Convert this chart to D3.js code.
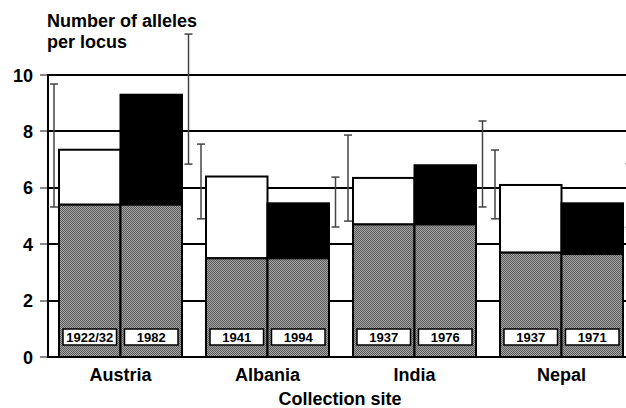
<!DOCTYPE html>
<html>
<head>
<meta charset="utf-8">
<script src="https://cdn.jsdelivr.net/npm/d3@7"></script>
<style>
  html, body { margin: 0; padding: 0; background: #fff; }
  svg { display: block; font-family: "Liberation Sans", Arial, sans-serif; }
</style>
</head>
<body>
<svg id="chart" width="626" height="408"></svg>
<script>
// ---- data ----
const categories = ["Austria", "Albania", "India", "Nepal"];
const yearsEarly = ["1922/32", "1941", "1937", "1937"];
const yearsLate = ["1982", "1994", "1976", "1971"];
const grayEarly = [5.4, 3.5, 4.7, 3.7];     // shared (gray) part, early sample
const grayLate = [5.4, 3.5, 4.7, 3.65];     // shared (gray) part, late sample
const totalEarly = [7.35, 6.4, 6.35, 6.1];  // white bar total
const totalLate = [9.3, 5.45, 6.8, 5.45];   // black bar total
const errEarlyLow = [5.32, 4.9, 4.82, 4.9];
const errEarlyHigh = [9.68, 7.55, 7.87, 7.34];
const errLateLow = [6.84, 4.61, 5.32, 4.6];
const errLateHigh = [11.45, 6.38, 8.37, 6.85];
const yTicks = [0, 2, 4, 6, 8, 10];

const svg = d3.select("#chart");
const W = 626;
const plotLeft = 48, plotBottom = 357, plotTop = 75;

const x = d3.scaleBand().domain(categories).range([48, 634])
  .paddingInner(24 / 147).paddingOuter(11 / 147);
const sub = d3.scaleBand().domain(["early", "late"]).range([0, x.bandwidth()]);
const y = d3.scaleLinear().domain([0, 10]).range([plotBottom, plotTop]);

// pattern for gray (dithered)
const defs = svg.append("defs");
const pat = defs.append("pattern").attr("id", "dots").attr("width", 2).attr("height", 2)
  .attr("patternUnits", "userSpaceOnUse");
pat.append("rect").attr("width", 2).attr("height", 2).attr("fill", "#a6a6a6");
pat.append("rect").attr("width", 1).attr("height", 1).attr("fill", "#5a5a5a");
pat.append("rect").attr("x", 1).attr("y", 1).attr("width", 1).attr("height", 1).attr("fill", "#5a5a5a");

// gridlines
const grid = svg.append("g");
grid.selectAll("line.grid").data(yTicks).join("line").attr("class", "grid")
  .attr("x1", plotLeft).attr("x2", W)
  .attr("y1", d => Math.round(y(d))).attr("y2", d => Math.round(y(d)))
  .attr("stroke", "#000").attr("stroke-width", 2).attr("shape-rendering", "crispEdges");
grid.selectAll("line.tick").data(yTicks).join("line").attr("class", "tick")
  .attr("x1", 40).attr("x2", plotLeft)
  .attr("y1", d => Math.round(y(d))).attr("y2", d => Math.round(y(d)))
  .attr("stroke", "#888").attr("stroke-width", 1.5).attr("shape-rendering", "crispEdges");
svg.append("line").attr("x1", plotLeft).attr("x2", plotLeft).attr("y1", y(10) - 1).attr("y2", y(0) + 1)
  .attr("stroke", "#000").attr("stroke-width", 2).attr("shape-rendering", "crispEdges");

// tick labels
svg.append("g").selectAll("text").data(yTicks).join("text")
  .attr("x", 33).attr("y", d => y(d) + 6.5)
  .attr("text-anchor", "end").attr("font-size", 18).attr("font-weight", "bold")
  .text(d => d);

// bars
const rows = categories.map((c, i) => ({
  c, i,
  bars: [
    { key: "early", gray: grayEarly[i], total: totalEarly[i], fill: "#fff", year: yearsEarly[i] },
    { key: "late", gray: grayLate[i], total: totalLate[i], fill: "#000", year: yearsLate[i] }
  ]
}));

const g = svg.append("g");
rows.forEach(r => {
  r.bars.forEach(b => {
    const bx = x(r.c) + sub(b.key);
    const bw = sub.bandwidth();
    g.append("rect").attr("x", bx).attr("width", bw)
      .attr("y", y(b.total)).attr("height", y(b.gray) - y(b.total))
      .attr("fill", b.fill).attr("stroke", "#000").attr("stroke-width", 2);
    g.append("rect").attr("x", bx).attr("width", bw)
      .attr("y", y(b.gray)).attr("height", y(0) - y(b.gray))
      .attr("fill", "url(#dots)").attr("stroke", "#000").attr("stroke-width", 2);
    // year label box
    const boxW = bw - 8;
    g.append("rect").attr("x", bx + (bw - boxW) / 2).attr("width", boxW)
      .attr("y", 329).attr("height", 16)
      .attr("fill", "#fff").attr("stroke", "#000").attr("stroke-width", 1.5);
    g.append("text").attr("x", bx + bw / 2).attr("y", 342)
      .attr("text-anchor", "middle").attr("font-size", 13).attr("font-weight", "bold")
      .text(b.year);
  });
});

// error bars
const errs = [];
categories.forEach((c, i) => {
  errs.push({ x: x(c) - 5, lo: errEarlyLow[i], hi: errEarlyHigh[i] });
  errs.push({ x: x(c) + x.bandwidth() + 6.5, lo: errLateLow[i], hi: errLateHigh[i] });
});
const eg = svg.append("g").attr("stroke", "#444").attr("stroke-width", 1.5);
errs.forEach(e => {
  eg.append("line").attr("x1", e.x).attr("x2", e.x).attr("y1", y(e.hi)).attr("y2", y(e.lo));
  eg.append("line").attr("x1", e.x - 4).attr("x2", e.x + 4).attr("y1", y(e.hi)).attr("y2", y(e.hi));
  eg.append("line").attr("x1", e.x - 4).attr("x2", e.x + 4).attr("y1", y(e.lo)).attr("y2", y(e.lo));
});

// category labels
svg.append("g").selectAll("text").data(categories).join("text")
  .attr("x", d => x(d) + x.bandwidth() / 2).attr("y", 381)
  .attr("text-anchor", "middle").attr("font-size", 18).attr("font-weight", "bold")
  .text(d => d);

// axis titles
svg.append("text").attr("x", 340).attr("y", 405).attr("text-anchor", "middle")
  .attr("font-size", 18).attr("font-weight", "bold").text("Collection site");
svg.append("text").attr("x", 47).attr("y", 27)
  .attr("font-size", 18).attr("font-weight", "bold").text("Number of alleles");
svg.append("text").attr("x", 47).attr("y", 48)
  .attr("font-size", 18).attr("font-weight", "bold").text("per locus");
</script>
</body>
</html>
